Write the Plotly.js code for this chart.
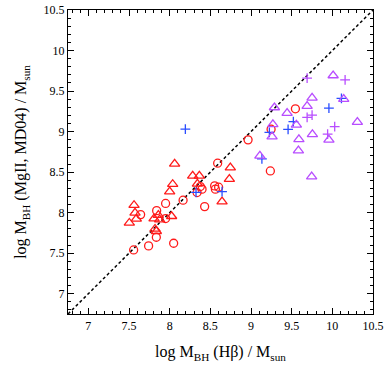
<!DOCTYPE html>
<html><head><meta charset="utf-8">
<script src="https://cdn.plot.ly/plotly-3.0.1.min.js"></script>
<style>body{margin:0;background:#fff}#c{width:390px;height:374px}</style>
</head><body><div id="c"></div>
<script>
const redCircX = [7.557,7.741,7.836,8.049,7.643,7.840,7.950,7.950,8.165,8.430,8.337,8.377,8.398,8.553,8.562,8.602,8.590,8.964,9.238,9.247,9.546];
const redCircY = [7.540,7.590,7.697,7.623,7.976,8.025,7.927,8.114,8.154,8.075,8.248,8.322,8.290,8.330,8.290,8.314,8.610,8.898,8.515,9.030,9.281];
const redTriX = [7.562,7.574,7.590,7.504,7.808,7.861,7.877,7.820,7.836,8.024,8.061,8.037,8.000,8.283,8.365,8.341,8.746,8.734,8.644];
const redTriY = [8.092,7.997,7.923,7.873,7.927,7.969,7.914,7.799,7.771,7.956,8.602,8.351,8.260,8.454,8.454,8.355,8.556,8.413,8.136];
const bluePlusX = [8.193,8.324,8.644,9.134,9.226,9.456,9.521,9.958,10.112];
const bluePlusY = [9.030,8.250,8.260,8.664,8.991,9.028,9.124,9.290,9.410];
const purTriX = [10.010,9.751,10.140,9.288,9.690,9.444,10.308,9.558,9.269,9.259,9.755,9.958,9.589,9.583,9.109,9.746];
const purTriY = [9.692,9.417,9.401,9.297,9.315,9.228,9.118,9.083,9.090,8.939,8.966,8.898,8.904,8.766,8.701,8.445];
const purPlusX = [9.690,10.157,9.690,9.751,10.029,9.942];
const purPlusY = [9.660,9.639,9.176,9.203,9.062,8.969];
const oneToOne = [6.75,10.5];

const RED='#ff1a1a', BLUE='#2a4dff', PUR='#b84dff';
const traces = [
 {x:oneToOne,y:oneToOne,mode:'lines',line:{color:'#000',width:1.5,dash:'3px,2.5px'},hoverinfo:'skip'},
 {x:redCircX,y:redCircY,mode:'markers',marker:{symbol:'circle-open',size:8,color:RED,line:{width:1.3}}},
 {x:redTriX,y:redTriY,mode:'markers',marker:{symbol:'triangle-up-open',size:9,color:RED,line:{width:1.3}}},
 {x:bluePlusX,y:bluePlusY,mode:'markers',marker:{symbol:'cross-thin-open',size:7,color:BLUE,line:{width:1.3,color:BLUE}}},
 {x:purTriX,y:purTriY,mode:'markers',marker:{symbol:'triangle-up-open',size:9,color:PUR,line:{width:1.3}}},
 {x:purPlusX,y:purPlusY,mode:'markers',marker:{symbol:'cross-thin-open',size:7,color:PUR,line:{width:1.3,color:PUR}}}
];
const ax = {
 range:[6.75,10.5], dtick:0.5, tick0:7, ticks:'inside', ticklen:6, tickwidth:1, tickcolor:'#000',
 showline:true, linecolor:'#000', linewidth:1.2, mirror:'allticks', showgrid:false, zeroline:false,
 minor:{dtick:0.1, tick0:7, ticks:'inside', ticklen:3, tickcolor:'#000', showgrid:false},
 tickfont:{family:'Liberation Serif', size:12, color:'#000'}
};
const layout = {
 width:390, height:374, showlegend:false, paper_bgcolor:'#fff', plot_bgcolor:'#fff',
 margin:{l:68,r:17,t:10,b:60},
 xaxis:Object.assign({}, ax, {title:{text:'log M<sub>BH</sub> (Hβ) / M<sub>sun</sub>', font:{family:'Liberation Serif',size:16,color:'#000'}, standoff:14}}),
 yaxis:Object.assign({}, ax, {title:{text:'log M<sub>BH</sub> (MgII, MD04) / M<sub>sun</sub>', font:{family:'Liberation Serif',size:16,color:'#000'}, standoff:12}})
};
Plotly.newPlot('c', traces, layout, {displayModeBar:false, staticPlot:true});
</script></body></html>
